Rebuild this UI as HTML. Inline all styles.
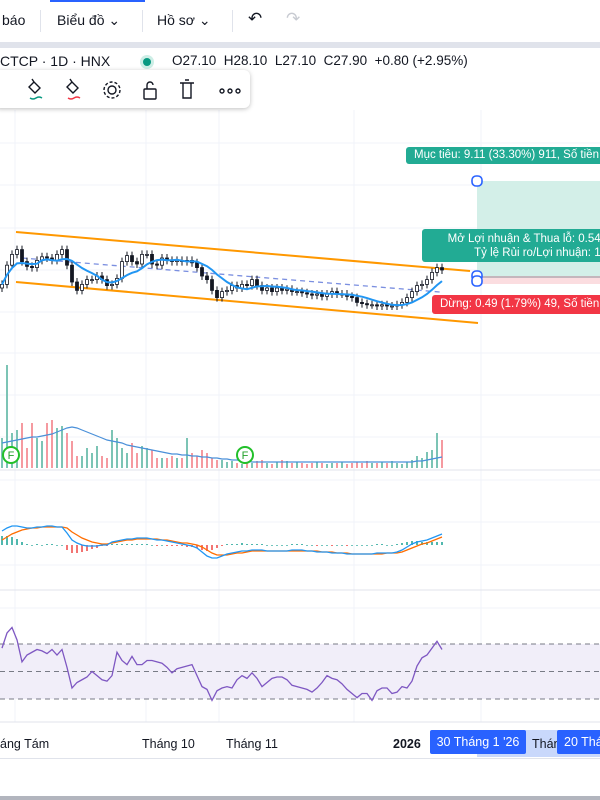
<!DOCTYPE html>
<html><head><meta charset="utf-8">
<style>
body{margin:0;width:600px;height:800px;overflow:hidden;background:#fff;font-family:"Liberation Sans","Noto Sans CJK SC",sans-serif;position:relative}
.top{position:absolute;left:0;top:0;width:600px;height:42px;background:#fff;border-bottom:6px solid #e0e3eb}
.top span{position:absolute;top:12px;font-size:14px;color:#131722}
.div{position:absolute;top:10px;width:1px;height:22px;background:#e0e3eb}
.leg{position:absolute;top:53px;font-size:14px;color:#131722}
.tb{position:absolute;left:-6px;top:70px;width:256px;height:38px;background:#fff;border-radius:6px;box-shadow:0 1px 5px rgba(0,0,0,.25)}
.lbl{position:absolute;color:#fff;font-size:11.5px;border-radius:3px;white-space:nowrap;overflow:hidden}
</style></head><body>
<div class="top">
 <div style="position:absolute;left:50px;top:0;width:95px;height:2px;background:#2962ff"></div>
 <span style="left:2px">báo</span>
 <div class="div" style="left:40px"></div>
 <span style="left:57px">Biểu đồ ⌄</span>
 <div class="div" style="left:142px"></div>
 <span style="left:157px">Hồ sơ ⌄</span>
 <div class="div" style="left:232px"></div>
 <span style="left:248px;font-size:17px;top:9px">↶</span>
 <span style="left:286px;font-size:17px;top:9px;color:#c8cbd2">↷</span>
</div>
<div class="leg" style="left:0">CTCP · 1D · HNX</div>
<div style="position:absolute;left:140px;top:55px;width:14px;height:14px;border-radius:50%;background:#cdeee6"><div style="margin:3px;width:8px;height:8px;border-radius:50%;background:#089981"></div></div>
<div class="leg" style="left:172px;font-size:13.5px">O27.10&nbsp; H28.10&nbsp; L27.10&nbsp; C27.90&nbsp; +0.80 (+2.95%)</div>

<svg id="ch" width="600" height="800" style="position:absolute;left:0;top:0"></svg>

<div class="tb">
 <svg width="256" height="38">
  <g stroke="#131722" fill="none" stroke-width="1.4">
   <path d="M40 12 l6 6 l-5 5 l-6 -6z M40 12 l-2 -3"/><path d="M36 28 q3 2 6 0 q3 -2 6 0" stroke="#089981"/>
   <path d="M78 12 l6 6 l-5 5 l-6 -6z M78 12 l-2 -3"/><path d="M74 28 q3 2 6 0 q3 -2 6 0" stroke="#f23645"/>
   <circle cx="118" cy="20" r="4"/><circle cx="118" cy="20" r="8" stroke-dasharray="3 2"/>
   <rect x="150" y="19" width="12" height="10" rx="1"/><path d="M153 19 v-4 a3 3 0 0 1 6 0"/>
   <path d="M186 13 h14 M189 13 v15 h8 v-15 M191 10 h4"/>
   <circle cx="228" cy="21" r="2"/><circle cx="236" cy="21" r="2"/><circle cx="244" cy="21" r="2"/>
  </g></svg>
</div>

<div class="lbl" style="left:406px;top:147px;width:200px;height:17px;background:#22ab94;line-height:17px;padding-left:8px">Mục tiêu: 9.11 (33.30%) 911, Số tiền</div>
<div class="lbl" style="left:422px;top:229px;width:185px;height:33px;background:#22ab94;line-height:14px;padding:3px 0 0 6px;box-sizing:border-box;text-align:right;padding-right:0">Mở Lợi nhuận &amp; Thua lỗ: 0.54,&nbsp;<br>Tỷ lệ Rủi ro/Lợi nhuận: 18</div>
<div class="lbl" style="left:432px;top:295px;width:180px;height:19px;background:#f23645;line-height:19px;padding-left:8px">Dừng: 0.49 (1.79%) 49, Số tiền</div>

<div style="position:absolute;left:0;top:728px;width:600px;height:30px;font-size:12.5px;color:#131722">
 <div style="position:absolute;left:477px;top:2px;width:123px;height:27px;background:#c9d8fb"></div>
 <span style="position:absolute;left:0;top:9px">áng Tám</span>
 <span style="position:absolute;left:142px;top:9px">Tháng 10</span>
 <span style="position:absolute;left:226px;top:9px">Tháng 11</span>
 <span style="position:absolute;left:393px;top:9px;font-weight:bold">2026</span>
 <span style="position:absolute;left:430px;top:2px;width:96px;height:24px;background:#2962ff;color:#fff;line-height:24px;text-align:center;border-radius:2px">30 Tháng 1 '26</span>
 <span style="position:absolute;left:532px;top:9px">Thán</span>
 <span style="position:absolute;left:557px;top:2px;width:60px;height:24px;background:#2962ff;color:#fff;line-height:24px;padding-left:7px;border-radius:2px">20 Tháng</span>
</div>
<div style="position:absolute;left:0;top:758px;width:600px;height:1px;background:#e0e3eb"></div>
<div style="position:absolute;left:0;top:796px;width:600px;height:4px;background:#b2b5be"></div>

<script>
const closes=[26.7,28.3,29.2,29.6,28.6,28.2,28.1,28.7,29.0,28.9,28.7,29.2,29.6,28.3,26.9,26.2,26.7,27.1,27.1,27.4,27.1,26.6,26.7,27.2,28.6,29.1,28.6,28.4,29.2,29.2,28.4,28.3,28.9,28.7,28.6,28.7,28.6,28.7,28.5,28.1,27.4,27.1,26.2,25.6,26.1,26.2,26.6,26.4,26.7,26.6,27.1,26.6,26.2,26.4,26.1,26.4,26.2,26.3,26.1,26.1,26.0,25.9,25.8,25.9,25.7,25.9,26.1,25.9,25.9,25.7,25.6,25.2,25.1,25.0,25.0,24.9,25.0,24.9,24.9,25.0,25.2,25.6,26.1,26.6,26.7,27.1,27.7,28.1,27.9];
const volumes=[30,103,35,38,45,20,45,30,27,45,48,40,42,35,27,12,12,20,15,22,12,10,38,30,20,15,25,15,22,20,18,10,10,10,12,10,10,30,15,12,18,15,10,8,8,6,7,5,4,6,5,7,8,5,4,6,8,7,5,6,5,4,5,6,5,4,5,5,6,4,5,6,5,7,5,5,6,5,7,5,4,6,8,12,10,16,18,35,28];
const volumeMA=[25,26,27,28,29,30,31,31,32,33,34,36,38,40,41,40,38,36,34,32,30,28,27,26,25,23,22,21,20,19,18,17,16,15,14,14,13,13,12,12,11,11,10,10,9,9,8,8,7,7,6,6,6,6,6,6,6,6,6,6,6,6,6,6,6,6,6,6,6,6,6,6,6,6,6,6,6,6,6,6,6,6,6,7,7,8,9,10,11];
const rsi=[67,78,82,73,57,62,64,66,65,63,66,62,66,53,38,42,44,46,50,47,44,43,47,64,58,55,61,55,55,58,58,57,56,53,49,52,53,54,55,47,39,37,29,36,38,39,38,44,47,45,49,45,39,42,45,46,46,44,40,39,38,37,35,38,42,47,45,44,41,37,34,31,34,34,29,36,38,38,34,35,39,38,43,54,60,62,67,72,66];
const macd=[1.4,1.7,1.9,1.9,1.8,1.7,1.7,1.8,1.8,1.9,1.9,1.8,1.8,1.2,0.5,0.2,0,-0.1,-0.1,-0.1,0,0,0.3,0.4,0.5,0.6,0.6,0.7,0.7,0.7,0.6,0.5,0.5,0.4,0.3,0.2,0.1,0,-0.1,-0.3,-0.7,-1.1,-1.3,-1.3,-1.1,-0.9,-0.8,-0.7,-0.6,-0.6,-0.5,-0.5,-0.5,-0.6,-0.6,-0.6,-0.6,-0.6,-0.5,-0.5,-0.5,-0.6,-0.6,-0.7,-0.7,-0.7,-0.8,-0.8,-0.8,-0.9,-0.9,-0.9,-0.9,-0.9,-0.9,-0.8,-0.8,-0.8,-0.8,-0.7,-0.5,-0.2,0.1,0.3,0.4,0.5,0.7,0.9,1.1];
const signal=[0.5,0.8,1.1,1.3,1.5,1.6,1.7,1.7,1.8,1.8,1.8,1.8,1.8,1.7,1.3,1.0,0.7,0.5,0.3,0.2,0.1,0.1,0.2,0.3,0.4,0.5,0.5,0.6,0.6,0.6,0.6,0.6,0.5,0.5,0.4,0.3,0.2,0.2,0.1,0,-0.2,-0.5,-0.8,-1.0,-1.0,-1.0,-0.9,-0.8,-0.8,-0.7,-0.6,-0.6,-0.6,-0.6,-0.6,-0.6,-0.6,-0.6,-0.6,-0.6,-0.6,-0.6,-0.6,-0.6,-0.7,-0.7,-0.7,-0.8,-0.8,-0.8,-0.9,-0.9,-0.9,-0.9,-0.9,-0.9,-0.9,-0.8,-0.8,-0.8,-0.7,-0.5,-0.3,-0.1,0.1,0.2,0.4,0.6,0.8];

const S=document.getElementById('ch'),NS='http://www.w3.org/2000/svg';
function el(t,a,p){const e=document.createElementNS(NS,t);for(const k in a)e.setAttribute(k,a[k]);(p||S).appendChild(e);return e;}
const xAt=i=>2+i*5;
const yP=p=>270-(p-27.9)*12;
const yV=v=>468-v;
const yR=r=>671.5-(r-50)*1.375;
const yM=m=>545-m*10;

// grid
[143,185,228,270,312,353,395,437,480,522,565,608,650,692].forEach(y=>el('line',{x1:0,x2:600,y1:y,y2:y,stroke:'#f0f3fa'}));
[15,146,219,354,481].forEach(x=>el('line',{x1:x,x2:x,y1:110,y2:722,stroke:'#f0f3fa'}));
[470,590,722].forEach(y=>el('line',{x1:0,x2:600,y1:y,y2:y,stroke:'#e0e3eb'}));

// position tool
el('rect',{x:477,y:181,width:123,height:95,fill:'#d3efe8'});
el('rect',{x:477,y:276,width:123,height:8,fill:'#fbdde0'});
el('line',{x1:477,x2:600,y1:277,y2:277,stroke:'#8c8f99'});

// channel
el('line',{x1:16,y1:232,x2:470,y2:271,stroke:'#ff9800','stroke-width':2});
el('line',{x1:16,y1:282,x2:478,y2:323,stroke:'#ff9800','stroke-width':2});
el('line',{x1:22,y1:258,x2:440,y2:292,stroke:'#7b8fe0','stroke-width':1.3,'stroke-dasharray':'5 4'});

// candles
const cg=el('g',{});


closes.forEach((c,i)=>{
  const o=i?closes[i-1]:c-0.3, up=c>=o;
  const yt=yP(Math.max(o,c)), yb=yP(Math.min(o,c)), x=xAt(i);
  el('line',{x1:x,x2:x,y1:yt-4,y2:yb+4,stroke:'#131722'},cg);
  const r=el('rect',{x:x-1.5,y:yt,width:3,height:Math.max(1,yb-yt),fill:up?'#fff':'#131722',stroke:'#131722','stroke-width':0.8},cg);
  
  
});
// SMA
function sma(a,n){return a.map((v,i)=>{const s=a.slice(Math.max(0,i-n+1),i+1);return s.reduce((p,q)=>p+q,0)/s.length;});}
const ma=sma(closes,8);
el('path',{d:ma.map((v,i)=>(i?'L':'M')+xAt(i)+' '+yP(v)).join(''),fill:'none',stroke:'#2196f3','stroke-width':2});

// handles
[[477,181],[477,276],[477,281]].forEach(p=>el('rect',{x:p[0]-5,y:p[1]-5,width:10,height:10,rx:4,fill:'#fff',stroke:'#2962ff','stroke-width':1.6}));

// volume
volumes.forEach((v,i)=>{
  const up=i?closes[i]>=closes[i-1]:true;
  const r=el('rect',{x:xAt(i)-1,y:yV(v),width:2,height:v,fill:up?'#7cc4b5':'#f59aa0'});
  
  
});
el('path',{d:volumeMA.map((v,i)=>(i?'L':'M')+xAt(i)+' '+yV(v)).join(''),fill:'none',stroke:'#4a90d9','stroke-width':1.2});
[[11,455],[245,455]].forEach(p=>{const g=el('g',{});
 el('circle',{cx:p[0],cy:p[1],r:8,fill:'#fff',stroke:'#22c02a','stroke-width':2},g);
 const t=el('text',{x:p[0],y:p[1]+4,'text-anchor':'middle','font-size':11,fill:'#22a02a','font-family':'Liberation Sans'},g);t.textContent='F';});

// macd
macd.forEach((m,i)=>{const h=(m-signal[i])*10;const up=h>=0;
 const r=el('rect',{x:xAt(i)-1,y:up?545-h:545,width:2,height:Math.max(0.8,Math.abs(h)),fill:up?'#26a69a':'#ef5350',opacity:0.8});
 
 });
el('path',{d:signal.map((v,i)=>(i?'L':'M')+xAt(i)+' '+yM(v)).join(''),fill:'none',stroke:'#ff6d00','stroke-width':1.3});
el('path',{d:macd.map((v,i)=>(i?'L':'M')+xAt(i)+' '+yM(v)).join(''),fill:'none',stroke:'#2196f3','stroke-width':1.3});

// rsi
el('rect',{x:0,y:yR(70),width:600,height:yR(30)-yR(70),fill:'#f1eef9'});
[70,50,30].forEach(l=>el('line',{x1:0,x2:600,y1:yR(l),y2:yR(l),stroke:'#787b86','stroke-dasharray':'5 4'}));
el('path',{d:rsi.map((v,i)=>(i?'L':'M')+xAt(i)+' '+yR(v)).join(''),fill:'none',stroke:'#7e57c2','stroke-width':1.3});
</script>
</body></html>
